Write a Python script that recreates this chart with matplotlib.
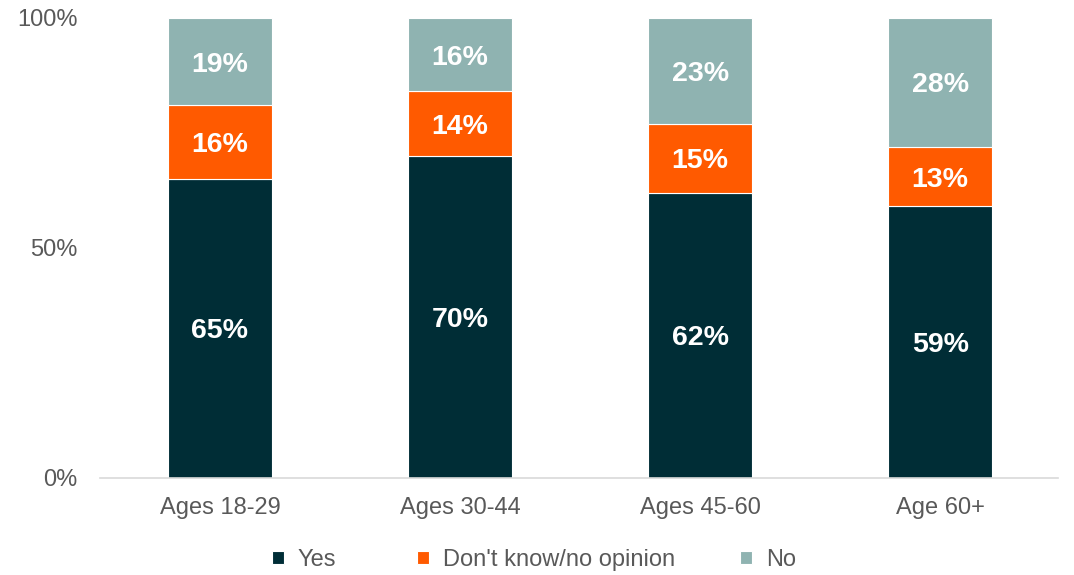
import numpy as np
import matplotlib.pyplot as plt
from matplotlib.ticker import PercentFormatter

plt.rcParams['font.family'] = ['Liberation Sans', 'DejaVu Sans']

groups = ["Ages 18-29", "Ages 30-44", "Ages 45-60", "Age 60+"]
yes = [65, 70, 62, 59]
dont_know = [16, 14, 15, 13]
no = [19, 16, 23, 28]

series = [("Yes", yes, "#002D36"),
          ("Don't know/no opinion", dont_know, "#FF5A00"),
          ("No", no, "#8FB3B1")]

fig = plt.figure(figsize=(10.74, 5.75), dpi=100)
ax = fig.add_axes([0.093, 0.169, 0.892, 0.8])

x = np.arange(len(groups))
bottom = np.zeros(len(groups))
handles = []
for name, vals, col in series:
    vals = np.array(vals, dtype=float)
    bars = ax.bar(x, vals, 0.435, bottom=bottom, color=col,
                  edgecolor="white", linewidth=0.8, label=name)
    handles.append(bars)
    for xi, b, v in zip(x, bottom, vals):
        ax.text(xi, b + v / 2, f"{v:.0f}%", ha="center", va="center_baseline",
                color="white", fontsize=20.5, fontweight="bold")
    bottom += vals

ax.set_xlim(-0.5, 3.49)
ax.set_ylim(0, 100)
ax.set_yticks([0, 50, 100])
ax.yaxis.set_major_formatter(PercentFormatter(decimals=0))
ax.set_xticks(x)
ax.set_xticklabels(groups)
ax.tick_params(axis="both", length=0, labelsize=17, colors="#595959")
ax.tick_params(axis="x", pad=14)
ax.tick_params(axis="y", pad=16)

for s in ["top", "right", "left"]:
    ax.spines[s].set_visible(False)
ax.spines["bottom"].set_color("#D9D9D9")
ax.spines["bottom"].set_linewidth(1.2)

# legend entries sit at uneven spacing, so each gets its own legend box
leg_x = [272, 417, 740]
for h, lx in zip(handles, leg_x):
    leg = fig.legend(handles=[h], loc="center left",
                     bbox_to_anchor=(lx / 1074, 1 - 560 / 575),
                     frameon=False, fontsize=17, handlelength=0.5,
                     handleheight=0.5, handletextpad=0.6,
                     borderpad=0, borderaxespad=0)
    for t in leg.get_texts():
        t.set_color("#595959")

fig.savefig("out.png", dpi=100)
